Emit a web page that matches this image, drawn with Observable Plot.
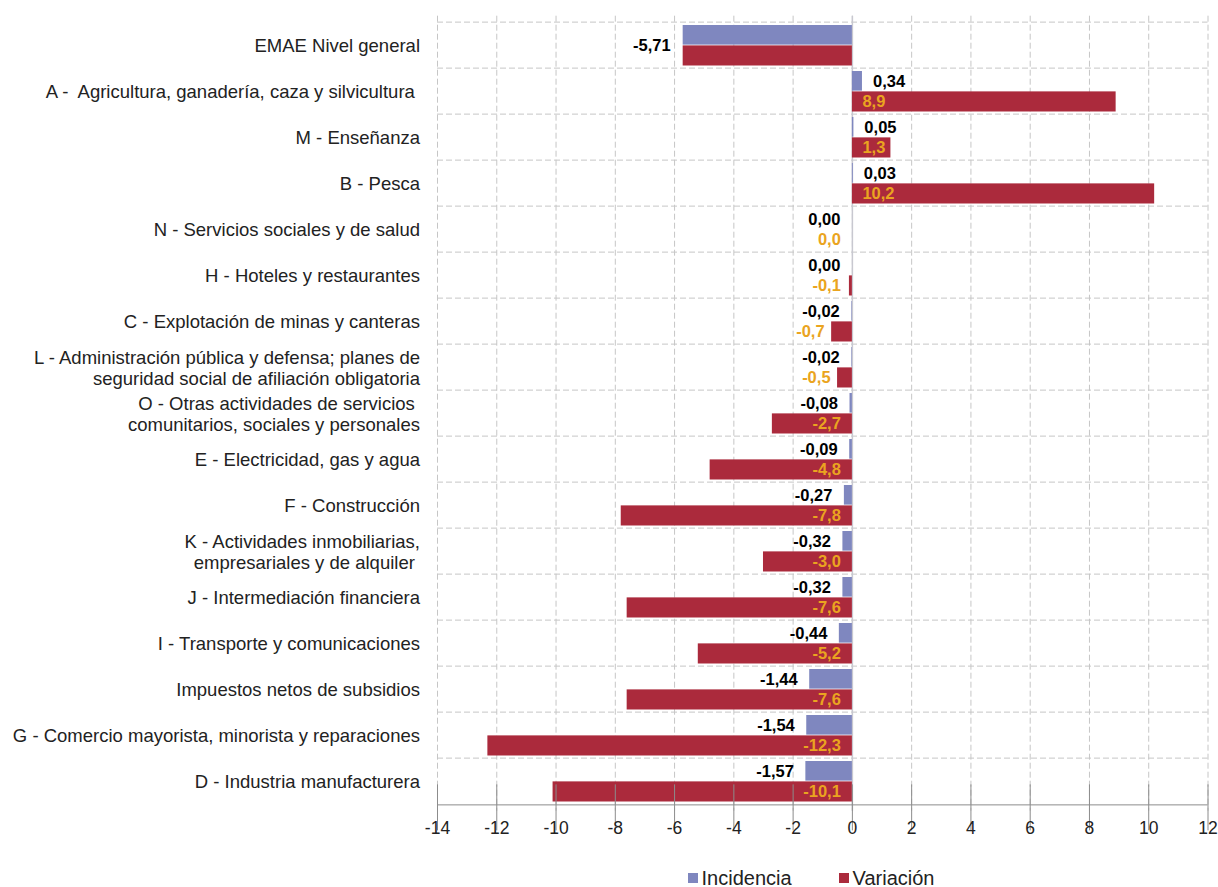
<!DOCTYPE html>
<html>
<head>
<meta charset="utf-8">
<script src="https://cdn.jsdelivr.net/npm/d3@7"></script>
<script src="https://cdn.jsdelivr.net/npm/@observablehq/plot@0.6"></script>
<style>
  html, body { margin: 0; background: #fff; overflow: hidden; font-family: "Liberation Sans", Arial, sans-serif; }
  #chart svg { display: block; max-width: none !important; }
  .legend { box-sizing: border-box; display: flex; justify-content: center; align-items: center; gap: 47px;
            padding-left: 404px; width: 1218px; margin-top: 8px; height: 24px;
            font-size: 20px; color: #222; }
  .legend span.sw { display: inline-block; width: 10px; height: 10px; margin-right: 4px; }
  .legend div { display: flex; align-items: center; }
</style>
</head>
<body>
<div id="chart"></div>
<div class="legend">
  <div><span class="sw" style="background:#7f87bf"></span>Incidencia</div>
  <div><span class="sw" style="background:#ab2a3c"></span>Variación</div>
</div>
<script>
const categorias = [
  "EMAE Nivel general",
  "A -\u00a0 Agricultura, ganadería, caza y silvicultura\u00a0",
  "M - Enseñanza",
  "B - Pesca",
  "N - Servicios sociales y de salud",
  "H - Hoteles y restaurantes",
  "C - Explotación de minas y canteras",
  "L - Administración pública y defensa; planes de\nseguridad social de afiliación obligatoria",
  "O - Otras actividades de servicios\u00a0\ncomunitarios, sociales y personales",
  "E - Electricidad, gas y agua",
  "F - Construcción",
  "K - Actividades inmobiliarias,\nempresariales y de alquiler\u00a0",
  "J - Intermediación financiera",
  "I - Transporte y comunicaciones",
  "Impuestos netos de subsidios",
  "G - Comercio mayorista, minorista y reparaciones",
  "D - Industria manufacturera"
];
const incidencia = [-5.71, 0.34, 0.05, 0.03, 0.00, 0.00, -0.02, -0.02, -0.08, -0.09, -0.27, -0.32, -0.32, -0.44, -1.44, -1.54, -1.57];
const variacion  = [-5.71, 8.9, 1.3, 10.2, 0.0, -0.1, -0.7, -0.5, -2.7, -4.8, -7.8, -3.0, -7.6, -5.2, -7.6, -12.3, -10.1];
const xTicks = [-14, -12, -10, -8, -6, -4, -2, 0, 2, 4, 6, 8, 10, 12];
const series = ["Incidencia", "Variación"];
const colores = ["#7f87bf", "#ab2a3c"];

const filas = categorias.map((c, i) => ({cat: c, inc: incidencia[i], vari: variacion[i], total: i === 0}));

const fmt = (v, d) => v.toFixed(d).replace(".", ",");

// layout constants (pixels)
const HALF = 23.38, OUTER = 3;
const grid = {stroke: "#c6c6c6", strokeWidth: 1, strokeDasharray: "6,3"};
const FONT = "Liberation Sans, Arial, sans-serif";
const bold = {fontSize: 16.5, fontWeight: "bold"};
const naranja = "#eaa420";
const ultima = categorias[categorias.length - 1];

const chart = Plot.plot({
  width: 1218,
  height: 858,
  marginTop: 15.7,
  marginBottom: 47.3,
  marginLeft: 437,
  marginRight: 10.5,
  style: {fontFamily: FONT, background: "#fff"},
  x: {domain: [-14, 12], axis: null},
  y: {domain: categorias, padding: 0, axis: null},
  marks: [
    Plot.gridX(xTicks, {...grid, strokeOpacity: 1}),
    Plot.ruleY(categorias, {y: d => d, dy: -HALF, ...grid}),
    Plot.ruleX([0], {stroke: "#c8c8d0", strokeWidth: 1.5}),
    Plot.barX(filas, {y: "cat", x: "inc", fill: colores[0], insetTop: OUTER, insetBottom: HALF}),
    Plot.barX(filas, {y: "cat", x: "vari", fill: colores[1], insetTop: HALF, insetBottom: OUTER - 0.5}),
    Plot.ruleY([ultima], {y: d => d, dy: HALF, stroke: "#8c8c8c", strokeWidth: 1}),
    Plot.tickX(xTicks, {x: d => d, y: () => ultima, dy: HALF + 3, stroke: "#8c8c8c"}),
    // x tick labels
    Plot.text(xTicks, {x: d => d, frameAnchor: "bottom", dy: 22.5, text: d => String(d), fontSize: 17.5, fill: "#222"}),
    // category labels
    Plot.text(filas, {y: "cat", text: "cat", frameAnchor: "left", textAnchor: "end", dx: -17.5,
      lineHeight: 1.15, fontSize: 18.5, fill: "#222"}),
    // incidencia labels
    Plot.text(filas, {y: "cat", x: "inc", text: d => fmt(d.inc, 2),
      filter: d => !d.total && d.inc > 0, textAnchor: "start", dx: 10.5, dy: -9.5, ...bold, fill: "#000"}),
    Plot.text(filas, {y: "cat", x: "inc", text: d => fmt(d.inc, 2),
      filter: d => !d.total && d.inc <= 0, textAnchor: "end", dx: -12, dy: -9.5, ...bold, fill: "#000"}),
    Plot.text(filas, {y: "cat", x: "inc", text: d => fmt(d.inc, 2),
      filter: d => d.total, textAnchor: "end", dx: -12.5, dy: 0, ...bold, fill: "#000"}),
    // variación labels
    Plot.text(filas, {y: "cat", x: () => 0, text: d => fmt(d.vari, 1),
      filter: d => !d.total && d.vari > 0, textAnchor: "start", dx: 10, dy: 10.5, ...bold, fill: naranja}),
    Plot.text(filas, {y: "cat", x: "vari", text: d => fmt(d.vari, 1),
      filter: d => !d.total && d.vari <= -0.3 && d.vari > -1, textAnchor: "end", dx: -7, dy: 10.5, ...bold, fill: naranja}),
    Plot.text(filas, {y: "cat", x: () => 0, text: d => fmt(d.vari, 1),
      filter: d => !d.total && (d.vari <= -1 || (d.vari <= 0 && d.vari > -0.3)), textAnchor: "end", dx: -11.5, dy: 10.5, ...bold, fill: naranja})
  ]
});
document.getElementById("chart").append(chart);
</script>
</body>
</html>
